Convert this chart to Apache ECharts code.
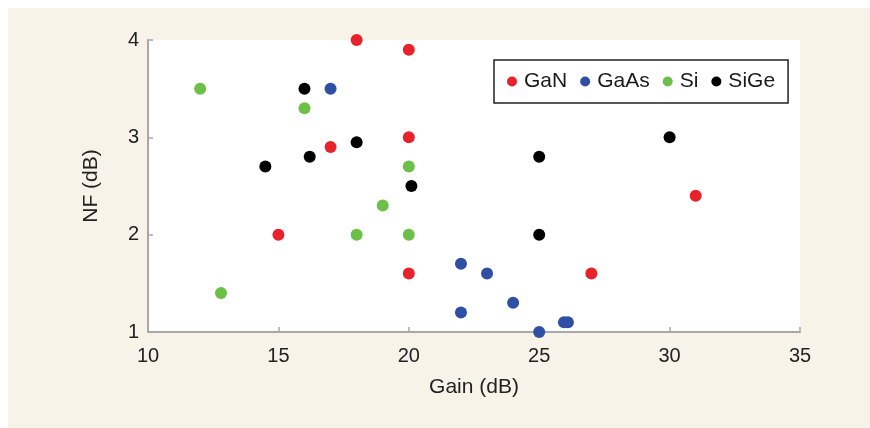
<!DOCTYPE html>
<html>
<head>
<meta charset="utf-8">
<script src="https://cdn.jsdelivr.net/npm/echarts@6/dist/echarts.min.js"></script>
<style>
html,body{margin:0;padding:0;background:#fff;}
#c{width:870px;height:428px;}
</style>
</head>
<body>
<div id="c"></div>
<script>
var seriesNames = ['GaN', 'GaAs', 'Si', 'SiGe'];
var seriesColors = ['#e8212b', '#2f4fa5', '#6cbf47', '#000000'];
var ganData = [[18, 4.0], [20, 3.9], [20, 3.0], [17, 2.9], [15, 2.0], [20, 1.6], [27, 1.6], [31, 2.4]];
var gaasData = [[17, 3.5], [22, 1.7], [23, 1.6], [22, 1.2], [24, 1.3], [25, 1.0], [25.95, 1.1], [26.1, 1.1]];
var siData = [[12, 3.5], [16, 3.3], [20, 2.7], [19, 2.3], [18, 2.0], [20, 2.0], [12.8, 1.4]];
var sigeData = [[16, 3.5], [14.5, 2.7], [16.2, 2.8], [18, 2.95], [20.1, 2.5], [25, 2.8], [25, 2.0], [30, 3.0]];
var allData = [ganData, gaasData, siData, sigeData];
var xTicks = [10, 15, 20, 25, 30, 35];
var yTicks = [1, 2, 3, 4];

var chart = echarts.init(document.getElementById('c'), null, {renderer: 'canvas'});
var font = 'Liberation Sans';
var axisStyle = {
  axisLine: {show: true, lineStyle: {color: '#a8a8a8', width: 2}},
  axisTick: {show: true, inside: true, length: 5, lineStyle: {color: '#a8a8a8', width: 1.5}},
  splitLine: {show: false},
  nameTextStyle: {color: '#222', fontSize: 21, fontFamily: font}
};
var option = {
  backgroundColor: '#ffffff',
  animation: false,
  graphic: [{
    type: 'rect', z: -10, silent: true,
    shape: {x: 8, y: 8, width: 862, height: 420},
    style: {fill: '#f7f3e8'}
  }],
  grid: {left: 148, right: 70, top: 40, bottom: 96, show: true, backgroundColor: '#ffffff', borderWidth: 0},
  legend: {
    show: true,
    left: 494, top: 60,
    orient: 'horizontal',
    data: seriesNames,
    icon: 'circle',
    itemWidth: 10, itemHeight: 10,
    itemGap: 13,
    padding: [11, 13, 11, 13],
    borderColor: '#222', borderWidth: 1.5,
    backgroundColor: '#fff',
    textStyle: {color: '#1a1a1a', fontSize: 21, fontFamily: font, padding: [0, 0, 0, 2]}
  },
  xAxis: Object.assign({
    type: 'value', min: xTicks[0], max: xTicks[xTicks.length - 1], interval: 5,
    name: 'Gain (dB)', nameLocation: 'middle', nameGap: 45
  }, axisStyle, {axisLabel: {color: '#222', fontSize: 20, fontFamily: font, margin: 14}}),
  yAxis: Object.assign({
    type: 'value', min: yTicks[0], max: yTicks[yTicks.length - 1], interval: 1,
    name: 'NF (dB)', nameLocation: 'middle', nameGap: 46
  }, axisStyle, {axisLabel: {color: '#222', fontSize: 20, fontFamily: font, margin: 9}}),
  series: seriesNames.map(function (n, i) {
    return {
      name: n, type: 'scatter', data: allData[i],
      symbol: 'circle', symbolSize: 12, clip: false,
      itemStyle: {color: seriesColors[i], opacity: 1}
    };
  })
};
chart.setOption(option);
</script>
</body>
</html>
